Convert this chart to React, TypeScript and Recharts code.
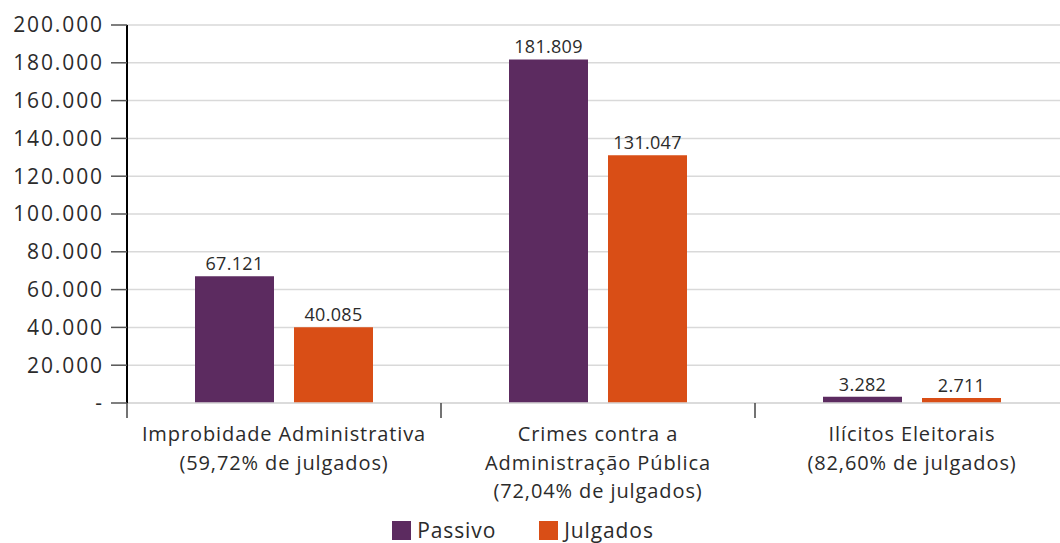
import React from 'react';
import { BarChart, Bar, XAxis, YAxis, CartesianGrid, Legend, LabelList } from 'recharts';

const categories = [
  ['Improbidade Administrativa', '(59,72% de julgados)'],
  ['Crimes contra a', 'Administração Pública', '(72,04% de julgados)'],
  ['Ilícitos Eleitorais', '(82,60% de julgados)'],
];
const passivo = [67121, 181809, 3282];
const julgados = [40085, 131047, 2711];
const yTicks = [0, 20000, 40000, 60000, 80000, 100000, 120000, 140000, 160000, 180000, 200000];

const PURPLE = '#5C2B60';
const ORANGE = '#D94E16';
const TEXT = '#2b2b2b';
const FONT = '"Open Sans", Lato, sans-serif';

const data = categories.map((lines, i) => ({
  name: lines.join(' '),
  lines,
  Passivo: passivo[i],
  Julgados: julgados[i],
}));

// 181809 -> "181.809", 0 -> "-"
const fmt = (v: number) => (v === 0 ? '-' : String(v).replace(/\B(?=(\d{3})+(?!\d))/g, '.'));

const CategoryTick = (props: any) => {
  const { x, y, payload, index } = props;
  const half = payload && payload.offset ? payload.offset : 157;
  const lines = data[index] ? data[index].lines : [payload.value];
  return (
    <g>
      <line x1={x - half} x2={x - half} y1={y} y2={y + 15} stroke="#444" strokeWidth={1.5} />
      <text x={x} y={y + 38} textAnchor="middle" fill={TEXT} fontSize={20} letterSpacing={0.9} fontFamily={FONT}>
        {lines.map((l: string, i: number) => (
          <tspan key={i} x={x} dy={i === 0 ? 0 : 28.5}>
            {l}
          </tspan>
        ))}
      </text>
    </g>
  );
};

const LegendContent = () => (
  <div style={{ display: 'flex', justifyContent: 'center', gap: 43, fontFamily: FONT, fontSize: 21, letterSpacing: 0.9, color: TEXT }}>
    {[
      { name: 'Passivo', color: PURPLE },
      { name: 'Julgados', color: ORANGE },
    ].map((it) => (
      <div key={it.name} style={{ display: 'flex', alignItems: 'center' }}>
        <span style={{ width: 19, height: 19, background: it.color, display: 'inline-block', marginRight: 6 }} />
        <span>{it.name}</span>
      </div>
    ))}
  </div>
);

export default function App() {
  return (
    <div style={{ position: 'absolute', left: 0, top: 0, width: 1060, height: 543, overflow: 'hidden', background: '#fff' }}>
      <BarChart
        width={1070}
        height={543}
        data={data}
        margin={{ top: 25, right: 1, left: 0, bottom: 0 }}
        barGap={20}
      >
        <CartesianGrid vertical={false} stroke="#d9d9d9" strokeWidth={1.5} />
        <XAxis
          dataKey="name"
          height={140}
          axisLine={{ stroke: '#d9d9d9', strokeWidth: 1.5 }}
          tickLine={false}
          tickSize={0}
          tickMargin={0}
          interval={0}
          tick={<CategoryTick />}
        />
        <YAxis
          width={127}
          domain={[0, 200000]}
          ticks={yTicks}
          interval={0}
          tickFormatter={fmt}
          axisLine={{ stroke: '#000', strokeWidth: 2 }}
          tickLine={{ stroke: '#555', strokeWidth: 1.5 }}
          tickSize={16}
          tickMargin={7}
          tick={{ fill: TEXT, fontSize: 21, letterSpacing: 1.9, fontFamily: FONT }}
        />
        <Legend
          layout="vertical"
          align="center"
          verticalAlign="middle"
          wrapperStyle={{ top: 516, left: -7, width: 1060 }}
          content={<LegendContent />}
        />
        <Bar dataKey="Passivo" fill={PURPLE} barSize={79} isAnimationActive={false}>
          <LabelList dataKey="Passivo" position="top" offset={6} formatter={fmt} fill={TEXT} fontSize={18} letterSpacing={0.3} fontFamily={FONT} />
        </Bar>
        <Bar dataKey="Julgados" fill={ORANGE} barSize={79} isAnimationActive={false}>
          <LabelList dataKey="Julgados" position="top" offset={6} formatter={fmt} fill={TEXT} fontSize={18} letterSpacing={0.3} fontFamily={FONT} />
        </Bar>
      </BarChart>
    </div>
  );
}
